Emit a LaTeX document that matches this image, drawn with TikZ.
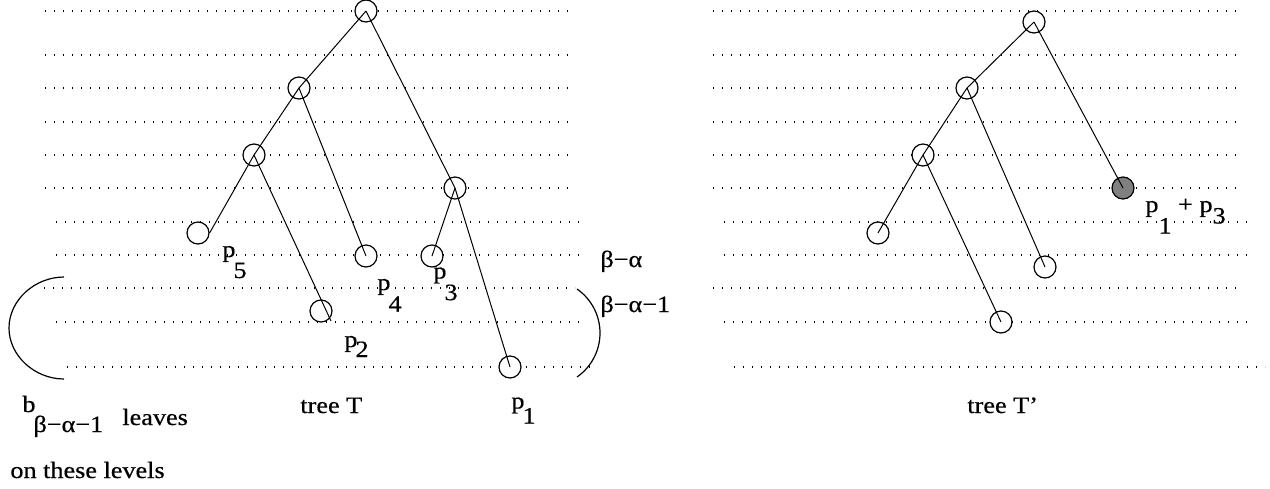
\documentclass[tikz,border=0pt]{standalone}
\usepackage{fontspec}
\setmainfont[FakeStretch=1.12,FakeBold=0.5]{Liberation Serif}
\begin{document}
\begin{tikzpicture}[x=0.5pt,y=-0.5pt,
  level/.style={line width=0.6pt,dash pattern=on 0.7pt off 3.8pt},
  vtx/.style={circle,draw,line width=0.6pt,minimum size=11pt,inner sep=0pt,fill=white},
  merged/.style={vtx,fill=black!50},
  edge/.style={line width=0.5pt},
  lbl/.style={font=\fontsize{11.7pt}{13.5pt}\selectfont,inner sep=0pt,anchor=base west},
  brace/.style={line width=0.6pt}]
\useasboundingbox (0,0) rectangle (1270,488);

% ---------- levels, left panel ----------
\foreach \y in {11,55,88,122,155,188} \draw[level] (45,\y) -- (575,\y);
\draw[level] (56,222) -- (586,222);
\draw[level] (56,255) -- (583,255);
\draw[level] (44,288) -- (575,288);
\draw[level] (56,322) -- (583,322);
\draw[level] (67,367) -- (594,367);

% ---------- levels, right panel ----------
\foreach \y in {11,55,88,122,155,188} \draw[level] (713,\y) -- (1242,\y);
\draw[level] (724,222) -- (1253,222);
\draw[level] (724,255) -- (1253,255);
\draw[level] (713,288) -- (1242,288);
\draw[level] (724,322) -- (1253,322);
\draw[level] (734,367) -- (1265,367);

% ---------- brackets ----------
\draw[brace] (64,277) .. controls (35,277) and (9,300) .. (9,328)
                      .. controls (9,356) and (35,379) .. (64,379);
\draw[brace] (577,289) .. controls (591.4,299) and (600,315.4) .. (600,333)
                       .. controls (600,350.6) and (591.4,367) .. (577,377);

% ---------- tree T ----------
\node[vtx] (r)  at (366,11)  {};
\node[vtx] (a)  at (299,88)  {};
\node[vtx] (b)  at (254,155) {};
\node[vtx] (c)  at (455,188) {};
\node[vtx] (l5) at (198,233) {};
\node[vtx] (l4) at (366,256) {};
\node[vtx] (l3) at (432,256) {};
\node[vtx] (l2) at (321,311) {};
\node[vtx] (l1) at (510,367) {};

\draw[edge] (r.center) -- (a.center);
\draw[edge] (r.center) -- (c.center);
\draw[edge] (a.center) -- (b.center);
\draw[edge] (a.center) -- (l4.center);
\draw[edge] (b.center) -- (l5.east);
\draw[edge] (b.center) -- ([shift={(10,10)}]l2.center);
\draw[edge] (c.center) -- (l3.center);
\draw[edge] (c.center) -- (l1.center);

% ---------- tree T' ----------
\node[vtx]    (R)  at (1034,22)  {};
\node[vtx]    (A)  at (967,88)   {};
\node[vtx]    (B)  at (923,155)  {};
\node[merged] (M)  at (1123,188) {};
\node[vtx]    (L5) at (878,233)  {};
\node[vtx]    (L4) at (1045,267) {};
\node[vtx]    (L2) at (1001,322) {};

\draw[edge] (R.center) -- (A.center);
\draw[edge] (R.center) -- (M.center);
\draw[edge] (A.center) -- (B.center);
\draw[edge] (A.center) -- (L4.center);
\draw[edge] (B.center) -- (L5.center);
\draw[edge] (B.center) -- (L2.center);

% ---------- labels ----------
\node[lbl] (t5) at (222,257)   {p\kern-1pt\raisebox{-10.5pt}{5}};
\node[lbl] (t4) at (377,290)   {p\kern-1pt\raisebox{-10.85pt}{4}};
\node[lbl] (t3) at (433,278.5) {p\kern-1pt\raisebox{-10.8pt}{3}};
\node[lbl] (t2) at (344,347)   {p\kern-1pt\raisebox{-5pt}{2}};
\node[lbl] (t1) at (511,408.5) {p\kern-1pt\raisebox{-7.5pt}{1}};
\node[lbl] (tm) at (1145,212)  {p\raisebox{-10.75pt}{1} + p\raisebox{-5.75pt}{3}};

\node[lbl] (ba)  at (600,267) {β−α};
\node[lbl] (ba1) at (600,312) {β−α−1};

\node[lbl] (treeT)  at (300,413) {tree T};
\node[lbl] (treeT2) at (967,413) {tree T’};

\node[lbl] (bcount) at (22,412)  {b\kern-1pt\raisebox{-10pt}{β−α−1}};
\node[lbl] (leaves) at (122,425) {leaves};
\node[lbl] (levels) at (10,478)  {on these levels};
\end{tikzpicture}
\end{document}
